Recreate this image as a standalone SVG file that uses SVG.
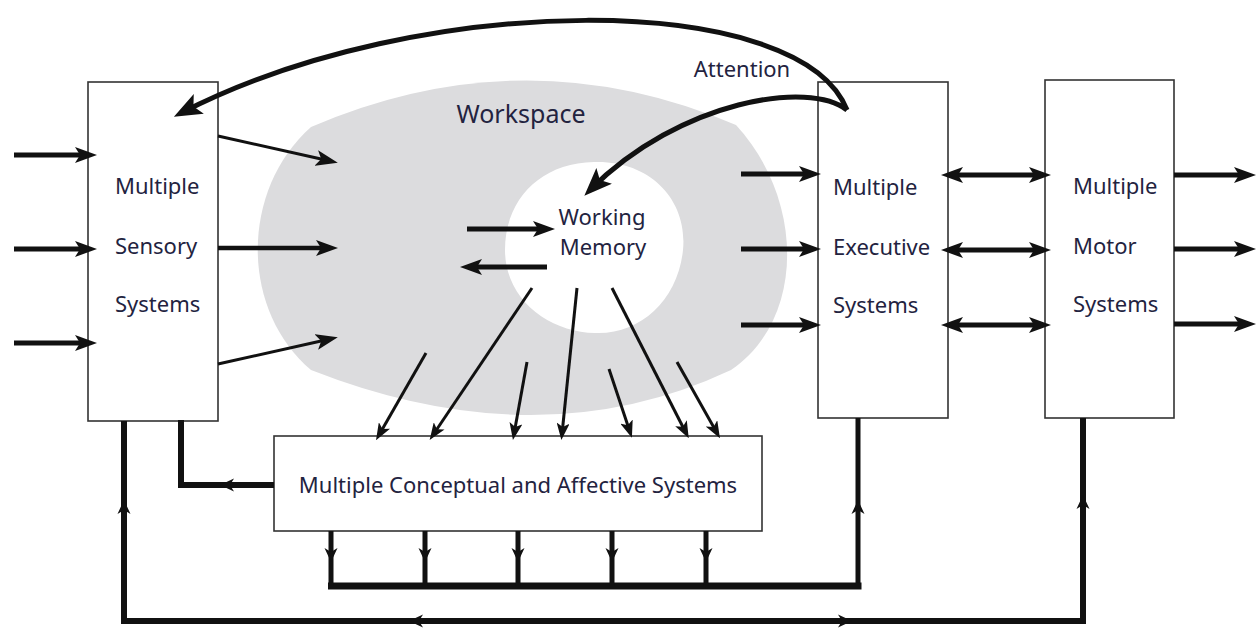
<svg xmlns="http://www.w3.org/2000/svg" xmlns:xlink="http://www.w3.org/1999/xlink" width="1259" height="628" viewBox="0 0 1259 628">
<style>
.box{fill:#fff;stroke:#333;stroke-width:1.6}
.lbl{font-family:"Noto Sans","Open Sans","DejaVu Sans",sans-serif;font-size:22px;fill:#23233f}
.ln{fill:none;stroke:#111;stroke-linecap:butt;stroke-linejoin:miter}
.thick{stroke-width:5;marker-end:url(#ah)}
.thin{stroke-width:3;marker-end:url(#ah)}
.down{stroke-width:3;marker-end:url(#ahs)}
.dbl{stroke-width:5;marker-start:url(#ah);marker-end:url(#ah)}
.att{stroke-width:5;marker-end:url(#ahL)}
.ih{fill:#111}
</style>
<defs>
<marker id="ah" markerUnits="userSpaceOnUse" markerWidth="22" markerHeight="16" viewBox="0 0 22 16" refX="14" refY="8" orient="auto-start-reverse"><path d="M0,0 L22,8 L0,16 L5,8 Z" fill="#111"/></marker>
<marker id="ahs" markerUnits="userSpaceOnUse" markerWidth="17" markerHeight="13" viewBox="0 0 17 13" refX="11" refY="6.5" orient="auto"><path d="M0,0 L17,6.5 L0,13 L4,6.5 Z" fill="#111"/></marker>
<marker id="ahL" markerUnits="userSpaceOnUse" markerWidth="28" markerHeight="22" viewBox="0 0 28 22" refX="20" refY="11" orient="auto"><path d="M0,0 L28,11 L0,22 L6,11 Z" fill="#111"/></marker>
<path id="ih" d="M0,0 L-14,-6.5 L-10,0 L-14,6.5 Z"/>
</defs>

<g id="workspace">
<path d="M311,127 Q525,35 736,125 C805,200 805,320 731,370 Q540,460 311,370 C240,310 240,190 311,127 Z" fill="#dcdcde"/>
<text class="lbl" x="521" y="123" text-anchor="middle" style="font-size:25px">Workspace</text>
</g>

<g id="working-memory">
<path d="M594,162 C650,160 688,200 683,250 C678,300 640,335 595,333 C550,332 505,300 505,250 C505,200 540,163 594,162 Z" fill="#fff"/>
<text class="lbl" x="602" y="225" text-anchor="middle">Working</text>
<text class="lbl" x="603" y="255" text-anchor="middle">Memory</text>
</g>

<g id="sensory">
<rect class="box" x="88" y="82" width="130" height="339"/>
<text class="lbl" x="115" y="194">Multiple</text>
<text class="lbl" x="115" y="254">Sensory</text>
<text class="lbl" x="115" y="312">Systems</text>
</g>

<g id="executive">
<rect class="box" x="818" y="82" width="130" height="336"/>
<text class="lbl" x="833" y="195">Multiple</text>
<text class="lbl" x="833" y="255">Executive</text>
<text class="lbl" x="833" y="313">Systems</text>
</g>

<g id="motor">
<rect class="box" x="1045" y="80" width="129" height="338"/>
<text class="lbl" x="1073" y="194">Multiple</text>
<text class="lbl" x="1073" y="254">Motor</text>
<text class="lbl" x="1073" y="312">Systems</text>
</g>

<g id="conceptual">
<rect class="box" x="274" y="436" width="488" height="95"/>
<text class="lbl" x="518" y="493" text-anchor="middle">Multiple Conceptual and Affective Systems</text>
</g>

<g id="attention-label">
<text class="lbl" x="742" y="77" text-anchor="middle">Attention</text>
</g>

<g id="connectors">
<!-- inputs to sensory -->
<line class="ln thick" x1="14" y1="155" x2="89" y2="155"/>
<line class="ln thick" x1="14" y1="249" x2="89" y2="249"/>
<line class="ln thick" x1="14" y1="343" x2="89" y2="343"/>
<!-- sensory to workspace -->
<line class="ln thin" x1="218" y1="136" x2="330" y2="161"/>
<line class="ln" style="stroke-width:4.5;marker-end:url(#ah)" x1="218" y1="248" x2="330" y2="248"/>
<line class="ln thin" x1="218" y1="364" x2="330" y2="339"/>
<!-- working memory in/out -->
<line class="ln thick" x1="467" y1="229" x2="547" y2="229"/>
<line class="ln thick" x1="547" y1="267" x2="468" y2="267"/>
<!-- workspace to executive -->
<line class="ln thick" x1="741" y1="174" x2="813" y2="174"/>
<line class="ln thick" x1="741" y1="249" x2="813" y2="249"/>
<line class="ln thick" x1="741" y1="325" x2="813" y2="325"/>
<!-- executive <-> motor -->
<line class="ln dbl" x1="949" y1="175" x2="1043" y2="175"/>
<line class="ln dbl" x1="949" y1="250" x2="1043" y2="250"/>
<line class="ln dbl" x1="949" y1="325" x2="1043" y2="325"/>
<!-- motor outputs -->
<line class="ln thick" x1="1174" y1="175" x2="1248" y2="175"/>
<line class="ln thick" x1="1174" y1="249" x2="1248" y2="249"/>
<line class="ln thick" x1="1174" y1="324" x2="1248" y2="324"/>
<!-- workspace to conceptual -->
<line class="ln down" x1="426" y1="353" x2="379" y2="435"/>
<line class="ln down" x1="532" y1="288" x2="433" y2="435"/>
<line class="ln down" x1="527" y1="362" x2="514" y2="434"/>
<line class="ln down" x1="577" y1="288" x2="562" y2="434"/>
<line class="ln down" x1="609" y1="369" x2="630" y2="432"/>
<line class="ln down" x1="612" y1="288" x2="686" y2="433"/>
<line class="ln down" x1="677" y1="362" x2="717" y2="433"/>
<!-- attention curves -->
<path class="ln att" d="M847,110 C800,-10 420,-10 181,113"/>
<path class="ln att" d="M847,110 C810,80 680,100 590,190"/>
<!-- bottom routing -->
<path class="ln" style="stroke-width:6" d="M274,485 H181 V420"/>
<path class="ln" style="stroke-width:6" d="M1083,418 V621 H124 V421"/>
<path class="ln" style="stroke-width:5" d="M858,418 V586"/>
<path class="ln" style="stroke-width:7" d="M861.5,586 H328"/>
<path class="ln" style="stroke-width:5" d="M331,531 V586 M425,531 V586 M518,531 V586 M612,531 V586 M706,531 V586"/>
<!-- inline arrowheads -->
<use class="ih" xlink:href="#ih" transform="translate(220,485) rotate(180)"/>
<use class="ih" xlink:href="#ih" transform="translate(124,500) rotate(-90)"/>
<use class="ih" xlink:href="#ih" transform="translate(409,621) rotate(180)"/>
<use class="ih" xlink:href="#ih" transform="translate(852,621)"/>
<use class="ih" xlink:href="#ih" transform="translate(858,500) rotate(-90)"/>
<use class="ih" xlink:href="#ih" transform="translate(1083,495) rotate(-90)"/>
<use class="ih" xlink:href="#ih" transform="translate(331,562) rotate(90)"/>
<use class="ih" xlink:href="#ih" transform="translate(425,562) rotate(90)"/>
<use class="ih" xlink:href="#ih" transform="translate(518,562) rotate(90)"/>
<use class="ih" xlink:href="#ih" transform="translate(612,562) rotate(90)"/>
<use class="ih" xlink:href="#ih" transform="translate(706,562) rotate(90)"/>
</g>
</svg>
